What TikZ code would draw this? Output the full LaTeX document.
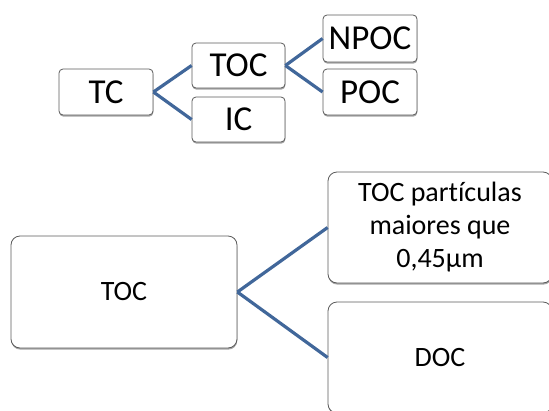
\documentclass[tikz,border=0pt]{standalone}
\usepackage{fontspec}
\setmainfont{Carlito}[Ligatures={NoCommon}]
\usetikzlibrary{shadows}
\definecolor{linkblue}{RGB}{65,103,154}
\definecolor{boxborder}{RGB}{90,90,90}
\begin{document}
\begin{tikzpicture}[x=1pt,y=1pt,
  boxbase/.style={draw=boxborder, line width=0.8pt, fill=white, align=center, inner sep=0pt,
    general shadow={fill=black!35, shadow xshift=0.3pt, shadow yshift=-1.6pt}},
  smallbox/.style={boxbase, rounded corners=4pt, font=\fontsize{35}{40}\selectfont},
  bigbox/.style={boxbase, rounded corners=9pt, font=\fontsize{28}{33}\selectfont},
  link/.style={draw=linkblue, line width=3.2pt}]
\useasboundingbox (0,0) rectangle (549,-410);
\clip (0,0) rectangle (549,-410);
% top tree
\node[smallbox, minimum width=94pt, minimum height=46pt] (tc) at (106,-92) {TC};
\node[smallbox, minimum width=93pt, minimum height=45pt] (toc) at (238.5,-65.5) {TOC};
\node[smallbox, minimum width=93pt, minimum height=45pt] (ic) at (238.5,-119.5) {IC};
\node[smallbox, minimum width=94pt, minimum height=47pt] (npoc) at (370,-38.5) {NPOC};
\node[smallbox, minimum width=94pt, minimum height=46pt] (poc) at (370,-92) {POC};
\draw[link] (tc.east) -- (toc.west);
\draw[link] (tc.east) -- (ic.west);
\draw[link] (toc.east) -- (npoc.west);
\draw[link] (toc.east) -- (poc.west);
% bottom tree
\node[bigbox, minimum width=226pt, minimum height=112pt] (tocb) at (124,-292) {TOC};
\node[bigbox, minimum width=224pt, minimum height=111pt] (tocp) at (440,-227.5) {TOC partículas\\maiores que\\0,45µm};
\node[bigbox, minimum width=224pt, minimum height=111pt] (doc) at (440,-357.5) {DOC};
\draw[link] (tocb.east) -- (tocp.west);
\draw[link] (tocb.east) -- (doc.west);
\end{tikzpicture}
\end{document}
